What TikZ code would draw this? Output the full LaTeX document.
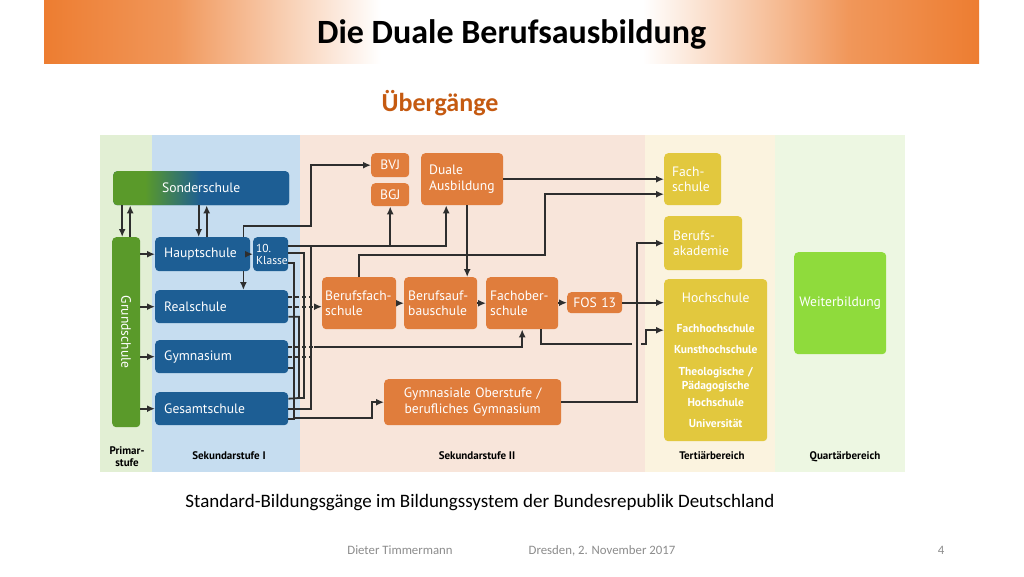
\documentclass[tikz,border=0pt]{standalone}
\usepackage{fontspec}
\setmainfont{Carlito}
\newfontfamily\boxfont{PT Sans}
\usepackage{tikz}
\usetikzlibrary{arrows.meta}
\tikzset{>={Latex[length=8pt,width=7pt]}}
\usepackage{xcolor}
\definecolor{orbar}{HTML}{ED7D31}
\definecolor{orhead}{HTML}{C55A11}
\definecolor{bgprim}{HTML}{E2EFD4}
\definecolor{bgsekI}{HTML}{C6DDF0}
\definecolor{bgsekII}{HTML}{F8E5DA}
\definecolor{bgtert}{HTML}{FBF3DF}
\definecolor{bgquart}{HTML}{EDF7E2}
\definecolor{sblue}{HTML}{1D5E94}
\definecolor{sgreen}{HTML}{5A9A2A}
\definecolor{sorange}{HTML}{E07D3C}
\definecolor{syellow}{HTML}{E2C83E}
\definecolor{slime}{HTML}{8FDB3C}
\definecolor{wirecol}{HTML}{2E2E2E}
\definecolor{foot}{HTML}{8C8C8C}
\pgfdeclarehorizontalshading{titlebar}{100bp}{color(0bp)=(orbar); color(25bp)=(orbar); color(32bp)=(orbar!80!white); color(43bp)=(white); color(57bp)=(white); color(68bp)=(orbar!80!white); color(75bp)=(orbar); color(100bp)=(orbar)}
\pgfdeclarehorizontalshading{sonderfade}{100bp}{color(0bp)=(sgreen); color(25bp)=(sgreen); color(34bp)=(sgreen); color(50bp)=(sblue); color(100bp)=(sblue)}
\tikzstyle{stage}=[rounded corners=4pt,anchor=north west,text=white,font=\boxfont\fontsize{13.6}{15.5}\selectfont,align=left,inner ysep=2pt]
\tikzstyle{blue box}=[stage,fill=sblue,inner xsep=9pt]
\tikzstyle{orange box}=[stage,fill=sorange,inner xsep=7pt]
\tikzstyle{yellow box}=[stage,fill=syellow,inner xsep=10pt]
\tikzstyle{wire}=[draw=wirecol,line width=1.8pt]
\tikzstyle{dashed wire}=[wire,dash pattern=on 4pt off 3pt]
\tikzstyle{band label}=[font=\boxfont\bfseries\fontsize{11}{12}\selectfont,align=center,anchor=base]
\tikzstyle{footer}=[font=\fontsize{12.8}{15}\selectfont,text=foot,anchor=base]

\begin{document}
\begin{tikzpicture}[x=1pt,y=-1pt]
  \useasboundingbox (0,0) rectangle (1024,576);
  \fill[white] (0,0) rectangle (1024,576);
  % heading
  \node[shade,shading=titlebar,anchor=north west,minimum width=935pt,minimum height=63pt] (title) at (44,0) {};
  \node[font=\bfseries\fontsize{34}{40}\selectfont,yshift=-3pt] (titletext) at (title.center) {Die Duale Berufsausbildung};
  \node[font=\bfseries\fontsize{26}{30}\selectfont,text=orhead] (sub) at (440,103) {Übergänge};
  % bands
  \fill[bgprim] (100,135) rectangle (152,472);
  \fill[bgsekI] (152,135) rectangle (300,472);
  \fill[bgsekII] (300,135) rectangle (645,472);
  \fill[bgtert] (645,135) rectangle (775,472);
  \fill[bgquart] (775,135) rectangle (905,472);
  \node[band label] (lprim) at (127,466) {Primar-\\stufe};
  \node[band label] (lsekI) at (229,459) {Sekundarstufe I};
  \node[band label] (lsekII) at (477,459) {Sekundarstufe II};
  \node[band label] (ltert) at (712,459) {Tertiärbereich};
  \node[band label] (lquart) at (845,459) {Quartärbereich};
  % Primar- und Sekundarstufe I
  \node[blue box,shade,shading=sonderfade,text width=158pt,minimum height=34pt,align=center] (sonder) at (113,171) {Sonderschule};
  \node[fill=sgreen,rounded corners=4pt,anchor=north west,minimum width=28pt,minimum height=190pt,inner sep=0pt] (grund) at (112,237) {};
  \node[rotate=-90,text=white,font=\boxfont\fontsize{13.6}{15}\selectfont] (grundtext) at (grund.center) {Grundschule};
  \node[blue box,text width=77pt,minimum height=34pt] (haupt) at (155,237) {Hauptschule};
  \node[blue box,inner xsep=3pt,text width=29pt,minimum height=34pt,font=\boxfont\fontsize{11.5}{12}\selectfont] (zehn) at (253,237) {10.\\Klasse};
  \node[blue box,text width=115pt,minimum height=33pt] (real) at (155,290) {Realschule};
  \node[blue box,text width=115pt,minimum height=33pt] (gym) at (155,340) {Gymnasium};
  \node[blue box,text width=115pt,minimum height=33pt] (gesamt) at (155,392) {Gesamtschule};
  % Sekundarstufe II
  \node[orange box,inner xsep=4pt,text width=30pt,minimum height=24pt,align=center] (bvj) at (371,153) {BVJ};
  \node[orange box,inner xsep=4pt,text width=30pt,minimum height=23pt,align=center] (bgj) at (371,183) {BGJ};
  \node[orange box,inner xsep=8pt,text width=66pt,minimum height=52pt] (duale) at (421,153) {Duale\\Ausbildung};
  \node[orange box,inner xsep=3pt,text width=68pt,minimum height=52pt] (bfs) at (322,277) {Berufsfach-\\schule};
  \node[orange box,inner xsep=4pt,text width=65pt,minimum height=52pt] (bas) at (404,277) {Berufsauf-\\bauschule};
  \node[orange box,inner xsep=4pt,text width=64pt,minimum height=52pt] (fos) at (486,277) {Fachober-\\schule};
  \node[orange box,inner xsep=4pt,inner ysep=1pt,text width=47pt,minimum height=21pt,align=center] (fos13) at (567,292) {FOS 13};
  \node[orange box,inner xsep=6pt,text width=165pt,minimum height=46pt,align=center] (gymob) at (384,379) {Gymnasiale Oberstufe /\\berufliches Gymnasium};
  % Tertiaer- und Quartaerbereich
  \node[yellow box,inner xsep=8pt,text width=41pt,minimum height=52pt] (fachs) at (664,153) {Fach-\\schule};
  \node[yellow box,inner xsep=9pt,text width=60pt,minimum height=54pt] (bak) at (664,216) {Berufs-\\akademie};
  \node[yellow box,inner xsep=3pt,text width=97pt,minimum height=162pt,align=center,
        font=\boxfont\bfseries\fontsize{11.5}{15}\selectfont] (hoch) at (664,279)
        {{\mdseries\fontsize{13.6}{15}\selectfont Hochschule}\\[15pt]
         Fachhochschule\\[6pt] Kunsthochschule\\[7pt] Theologische /\\[-1pt] Pädagogische\\[2pt]
         Hochschule\\[6pt] Universität};
  \node[stage,fill=slime,inner xsep=4pt,text width=84pt,minimum height=102pt,align=center] (weiter) at (794,252) {Weiterbildung};
  % connectors Sek I
  \coordinate (gd) at ([xshift=-4pt]grund.north);
  \coordinate (gu) at ([xshift=4pt]grund.north);
  \draw[wire,->] (gd |- sonder.south) -- (gd);
  \draw[wire,->] (gu) -- (gu |- sonder.south);
  \coordinate (hd) at ([xshift=-4pt]haupt.north);
  \coordinate (hu) at ([xshift=4pt]haupt.north);
  \draw[wire,->] (hd |- sonder.south) -- (hd);
  \draw[wire,->] (hu) -- (hu |- sonder.south);
  \foreach \s in {haupt,real,gym,gesamt}
    \draw[wire,->] (grund.east |- \s.west) -- (\s.west);
  \draw[wire,->] (haupt.east) -- (zehn.west);
  \coordinate (hr) at ([xshift=-7pt]haupt.south east);
  \draw[wire,->] (hr) -- (hr |- real.north);
  \coordinate (kA) at (311,226);
  \draw[wire,->] (hr |- haupt.north) |- (kA) |- (bvj.west);
  % 10. Klasse / Gesamtschule -> BGJ, Duale Ausbildung
  \coordinate (zA) at ([yshift=8pt]zehn.east);
  \coordinate (dA) at ([xshift=-16pt]duale.south);
  \draw[wire,->] (zA) -| (dA);
  \draw[wire,->] (bgj.south |- zA) -- (bgj.south);
  \coordinate (kD) at (311,0);
  \draw[wire] (gesamt.east) -| (kD |- zA);
  % -> Gymnasiale Oberstufe
  \coordinate (kB) at (294,418);
  \coordinate (kB2) at (372,418);
  \draw[wire,->] ([yshift=-9pt]zehn.east) -| (kB) -- (kB2) |- (gymob.west);
  \draw[wire] ([yshift=-11pt]gym.east) -- ++(6,0);
  \draw[wire] ([yshift=-10pt]gesamt.east) -| (kB);
  \coordinate (kC) at (299,398);
  \coordinate (kE) at (304,0);
  \draw[wire] ([yshift=-10pt]real.east) -| (kC) -- ([yshift=10pt]gesamt.east);
  \draw[wire] ([yshift=1pt]zehn.east) -| (kE |- kC) -- (kC);
  % Realschule, Gymnasium -> Sek II
  \draw[dashed wire,->] (real.east) -- (real.east -| bfs.west);
  \draw[dashed wire] ([yshift=10pt]real.east) -- ++(22,0);
  \draw[dashed wire] ([yshift=10pt]gym.east) -- ++(26,0) coordinate (kF);
  \draw[wire,->] (kF) -| (fos.south);
  \draw[dashed wire] (gym.east) -- ++(24,0);
  % connectors Sek II -> Tertiaerbereich
  \draw[wire,->] (duale.east) -- (duale.east -| fachs.west);
  \coordinate (kG) at (545,255);
  \draw[wire,->] (bfs.north) |- (kG) |- ([yshift=-15pt]fachs.west);
  \coordinate (dB) at ([xshift=5pt]duale.south);
  \draw[wire,->] (dB) -- (dB |- bas.north);
  \draw[wire,->] (bfs) -- (bas);
  \draw[wire,->] (bas) -- (fos);
  \draw[wire,->] (fos.east |- fos13.west) -- (fos13.west);
  \draw[wire,->] (fos13.east) -- (fos13.east -| hoch.west);
  \coordinate (kH) at (637,0);
  \draw[wire,->] (gymob.east) -| (kH |- bak.west) -- (bak.west);
  \coordinate (fB) at ([xshift=19pt]fos.south);
  \coordinate (hopL) at (632,344);
  \coordinate (hopR) at (641,344);
  \draw[wire] (fB) |- (hopL);
  \draw[wire,->] (hopR) -- ++(5,0) |- ([yshift=30pt]hoch.west);
  % caption and footer
  \node[font=\fontsize{19}{22}\selectfont] (caption) at (480,503) {Standard-Bildungsgänge im Bildungssystem der Bundesrepublik Deutschland};
  \node[footer] (author) at (400,554) {Dieter Timmermann};
  \node[footer] (place) at (602,554) {Dresden, 2. November 2017};
  \node[footer] (page) at (941,554) {4};
\end{tikzpicture}
\end{document}
